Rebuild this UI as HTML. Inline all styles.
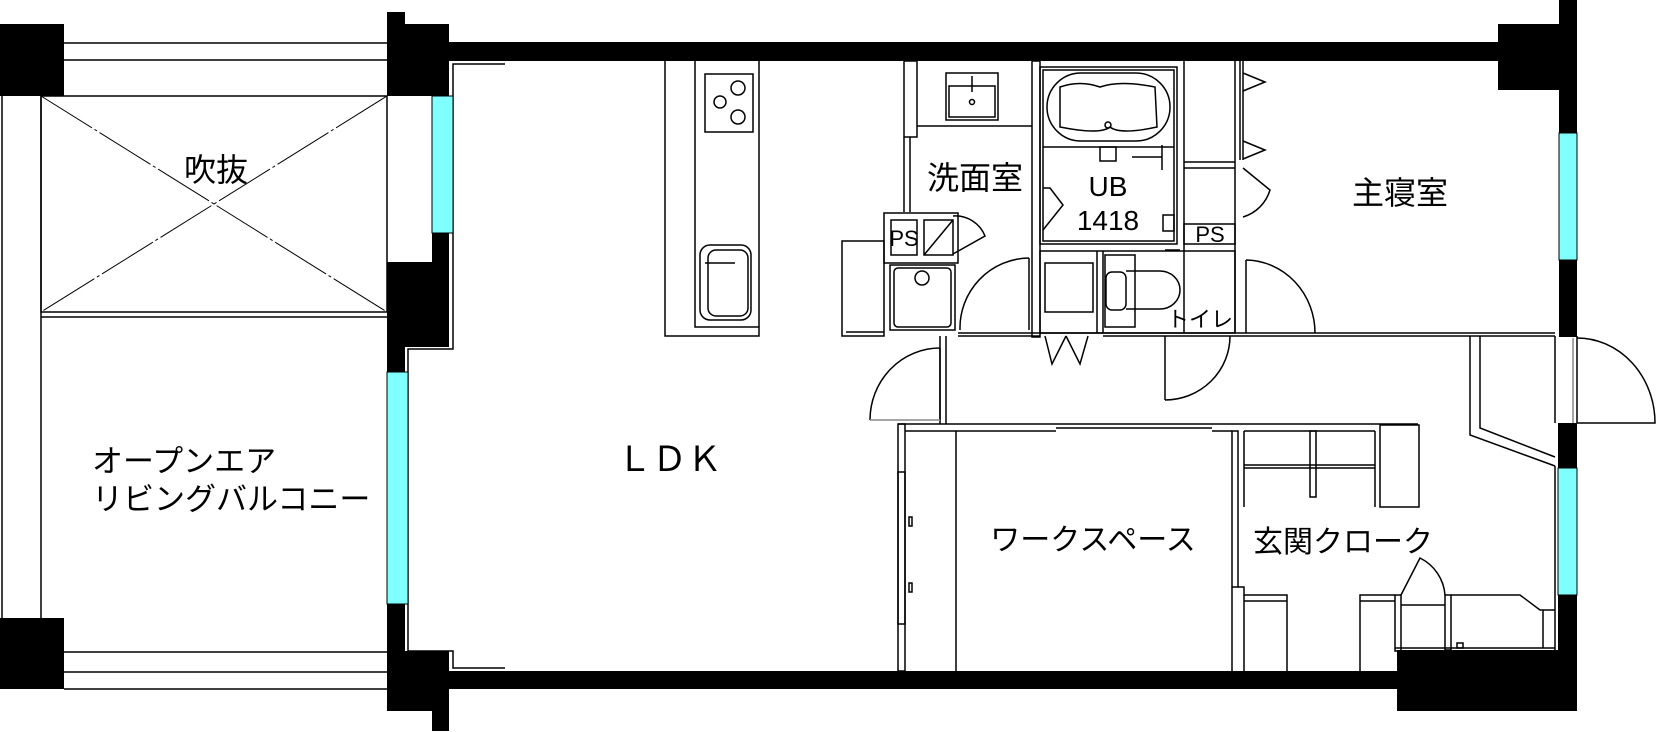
<!DOCTYPE html>
<html><head><meta charset="utf-8"><style>
html,body{margin:0;padding:0;background:#fff;}
svg{display:block;}
text{font-family:"Liberation Sans","Noto Sans CJK JP",sans-serif;fill:#000;}
</style></head><body>
<svg width="1656" height="732" viewBox="0 0 1656 732" xmlns="http://www.w3.org/2000/svg">
<g fill="none" stroke="#000" stroke-width="1.5">
<line x1="64" y1="43" x2="387" y2="43"/><line x1="64" y1="60" x2="387" y2="60"/>
<line x1="64" y1="652" x2="387" y2="652"/><line x1="64" y1="672" x2="387" y2="672"/><line x1="64" y1="689" x2="387" y2="689"/>
<line x1="2" y1="96" x2="2" y2="618"/><line x1="41" y1="96" x2="41" y2="618"/>
<rect x="41" y="96" width="346" height="216"/>
<line x1="41" y1="317" x2="387" y2="317"/>
<line x1="41" y1="96" x2="387" y2="312" stroke-dasharray="60 3 3 3" stroke-width="1"/>
<line x1="387" y1="96" x2="41" y2="312" stroke-dasharray="60 3 3 3" stroke-width="1"/>
<polyline points="505,64 453,64 453,349 408,349 408,651 453,651 453,668 505,668"/>
<polyline points="665,61 665,336 759,336 759,327 695,327 695,61"/>
<line x1="759" y1="61" x2="759" y2="327"/>
<rect x="705" y="74" width="48" height="58"/>
<circle cx="738" cy="88" r="7"/><circle cx="738" cy="117" r="7"/><circle cx="720" cy="102" r="6"/>
<rect x="700" y="245" width="51" height="75" rx="10"/>
<rect x="708" y="250" width="40" height="66" rx="8"/>
<line x1="705" y1="263" x2="735" y2="263"/>
<rect x="904" y="61" width="13" height="76"/>
<line x1="904" y1="137" x2="904" y2="212"/><line x1="910" y1="137" x2="910" y2="212"/>
<line x1="917" y1="126" x2="1032" y2="126"/>
<rect x="946" y="73" width="52" height="47"/><rect x="949" y="86" width="46" height="31"/>
<circle cx="972" cy="102" r="2.5"/><line x1="972" y1="76" x2="972" y2="92"/>
<rect x="1032" y="61" width="8" height="276"/>
<rect x="884" y="213" width="74" height="50"/>
<rect x="891" y="220" width="26" height="35"/>
<rect x="924" y="220" width="29" height="35"/><line x1="924" y1="255" x2="953" y2="220"/>
<path d="M953,216 A32,32 0 0 1 985,236 L953,254"/>
<rect x="890" y="265" width="65" height="65"/><rect x="894" y="268" width="57" height="59" rx="4"/>
<circle cx="922" cy="278" r="7"/>
<rect x="842" y="241" width="42" height="95"/>
<line x1="846" y1="332" x2="884" y2="332"/>
<line x1="958" y1="333" x2="1040" y2="333"/><line x1="958" y1="336" x2="1040" y2="336"/>
<path d="M960,330 A70,70 0 0 1 1029,258"/>
<line x1="1029" y1="258" x2="1029" y2="330"/>
<rect x="1040" y="67" width="137" height="177"/><rect x="1043" y="70" width="131" height="171"/>
<line x1="1043" y1="147" x2="1174" y2="147"/>
<rect x="1047" y="73" width="123" height="68" rx="34"/>
<path d="M1060,87 Q1080,80 1100,87 Q1120,80 1155,87 L1157,127 Q1120,135 1110,127 Q1100,135 1060,127 Z"/>
<circle cx="1108" cy="125" r="3"/>
<rect x="1100" y="147" width="16" height="14"/>
<line x1="1132" y1="157" x2="1162" y2="157"/><line x1="1162" y1="145" x2="1162" y2="170"/>
<polyline points="1043,188 1050,188 1063,205 1043,230"/>
<rect x="1163" y="215" width="11" height="16"/>
<line x1="1184" y1="61" x2="1184" y2="333"/><line x1="1235" y1="61" x2="1235" y2="333"/>
<line x1="1184" y1="162" x2="1235" y2="162"/><line x1="1184" y1="168" x2="1235" y2="168"/>
<rect x="1184" y="224" width="51" height="20"/>
<line x1="1240" y1="61" x2="1240" y2="160"/><line x1="1243" y1="61" x2="1243" y2="160"/>
<polyline points="1243,73 1265,82 1243,91"/><polyline points="1243,141 1265,150 1243,159"/>
<path d="M1243,168 L1270,190 A40,40 0 0 1 1243,217"/>
<rect x="1040" y="251" width="195" height="82"/>
<rect x="1045" y="263" width="48" height="49"/>
<line x1="1097" y1="251" x2="1097" y2="333"/><line x1="1103" y1="251" x2="1103" y2="333"/>
<rect x="1105" y="255" width="30" height="72"/>
<rect x="1106" y="272" width="20" height="38" rx="6"/>
<path d="M1126,271 L1160,271 A20,19 0 0 1 1160,309 L1126,309"/>
<line x1="1165" y1="250" x2="1180" y2="250"/>
<line x1="1040" y1="333" x2="1555" y2="333"/><line x1="1103" y1="336" x2="1555" y2="336"/>
<line x1="940" y1="336" x2="940" y2="424"/><line x1="946" y1="336" x2="946" y2="424"/>
<path d="M1045,336 L1052,364 L1066,336 M1066,336 L1080,364 L1088,336"/>
<line x1="1165" y1="336" x2="1165" y2="400"/><path d="M1165,400 A65,64 0 0 0 1230,336"/>
<line x1="1246" y1="260" x2="1246" y2="333"/><path d="M1246,260 A70,73 0 0 1 1315,333"/>
<line x1="940" y1="348" x2="940" y2="420"/><path d="M870,420 A70,72 0 0 1 940,348"/>
<line x1="870" y1="420" x2="940" y2="420" stroke="#888"/>
<line x1="1555" y1="336" x2="1555" y2="423"/><line x1="1577" y1="336" x2="1577" y2="423"/>
<line x1="1573" y1="338" x2="1573" y2="423" stroke="#888"/>
<path d="M1577,338 A78,85 0 0 1 1655,423 L1577,423"/>
<polyline points="1470,336 1470,435 1555,466"/><polyline points="1480,336 1480,428 1555,457"/>
<rect x="898" y="424" width="7" height="247"/>
<line x1="956" y1="431" x2="956" y2="671"/>
<line x1="898" y1="424" x2="1418" y2="424"/><line x1="905" y1="431" x2="1056" y2="431"/>
<line x1="1056" y1="428" x2="1212" y2="428"/>
<line x1="1212" y1="431" x2="1232" y2="431"/>
<rect x="898" y="472" width="7" height="152"/>
<rect x="909" y="517" width="3" height="9"/><rect x="909" y="583" width="3" height="9"/>
<rect x="1232" y="431" width="6" height="156"/>
<line x1="1232" y1="587" x2="1232" y2="671"/><line x1="1244" y1="595" x2="1244" y2="671"/>
<line x1="1244" y1="431" x2="1244" y2="507"/>
<rect x="1380" y="425" width="39" height="82"/>
<line x1="1244" y1="431" x2="1375" y2="431"/><line x1="1375" y1="431" x2="1375" y2="507"/>
<rect x="1310" y="431" width="6" height="66"/>
<line x1="1244" y1="465" x2="1375" y2="465"/><line x1="1244" y1="468" x2="1375" y2="468"/>
<polyline points="1238,587 1244,587 1244,595 1287,595 1287,671"/><line x1="1244" y1="601" x2="1287" y2="601"/>
<polyline points="1360,671 1360,595 1395,595"/><line x1="1360" y1="601" x2="1395" y2="601"/>
<rect x="1395" y="595" width="6" height="56"/>
<path d="M1401,595 L1420,558 A45,45 0 0 1 1445,595"/>
<line x1="1401" y1="605" x2="1445" y2="605"/>
<rect x="1445" y="595" width="6" height="55"/>
<polyline points="1451,595 1520,595 1540,610 1555,610"/>
<line x1="1543" y1="610" x2="1543" y2="648"/>
<line x1="1395" y1="648" x2="1555" y2="648"/>
<rect x="1457" y="643" width="6" height="5"/>
<line x1="1555" y1="466" x2="1555" y2="650"/>
</g>
<g fill="#000">
<rect x="0" y="24" width="64" height="72"/>
<rect x="387" y="12" width="18" height="84"/><rect x="387" y="24" width="62" height="72"/>
<rect x="449" y="42" width="1049" height="19"/>
<rect x="1498" y="24" width="79" height="66"/><rect x="1559" y="0" width="18" height="90"/>
<rect x="1559" y="90" width="18" height="43"/><rect x="1559" y="260" width="18" height="77"/>
<rect x="1558" y="423" width="19" height="45"/><rect x="1558" y="595" width="19" height="116"/>
<rect x="1397" y="650" width="180" height="61"/>
<rect x="432" y="233" width="17" height="29"/><rect x="387" y="262" width="62" height="85"/>
<rect x="387" y="347" width="18" height="25"/>
<rect x="387" y="604" width="18" height="47"/>
<rect x="387" y="651" width="62" height="60"/><rect x="432" y="700" width="17" height="31"/>
<rect x="449" y="671" width="948" height="18"/>
<rect x="0" y="618" width="64" height="71"/>
</g>
<g fill="#80ffff" stroke="#000" stroke-width="1">
<rect x="432" y="96" width="21" height="137"/>
<rect x="387" y="372" width="21" height="232"/>
<rect x="1559" y="133" width="18" height="127"/>
<rect x="1558" y="468" width="19" height="127"/>
</g>
<text x="216" y="181" font-size="32" text-anchor="middle">吹抜</text>
<text x="92" y="472" font-size="31">オープンエア</text>
<text x="92" y="510" font-size="31">リビングバルコニー</text>
<text x="617" y="471" font-size="35">ＬＤＫ</text>
<text x="975" y="189" font-size="32" text-anchor="middle">洗面室</text>
<text x="1108" y="196" font-size="28" text-anchor="middle">UB</text>
<text x="1108" y="230" font-size="28" text-anchor="middle">1418</text>
<text x="904" y="246" font-size="22" text-anchor="middle">PS</text>
<text x="1210" y="242" font-size="22" text-anchor="middle">PS</text>
<text x="1167" y="327" font-size="22">トイレ</text>
<text x="1400" y="204" font-size="32" text-anchor="middle">主寝室</text>
<text x="1093" y="550" font-size="30" text-anchor="middle">ワークスペース</text>
<text x="1343" y="552" font-size="30" text-anchor="middle">玄関クローク</text>
</svg>
</body></html>
